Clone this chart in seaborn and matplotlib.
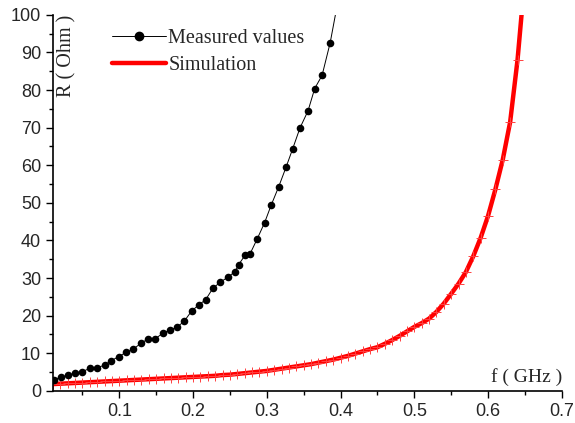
import matplotlib
matplotlib.use("Agg")
import matplotlib.pyplot as plt
import seaborn as sns
import numpy as np
import pandas as pd
from matplotlib.lines import Line2D
from matplotlib.ticker import MultipleLocator

# measured points (GHz, Ohm)
meas_f = [0.011, 0.021, 0.031, 0.040, 0.050, 0.060, 0.070, 0.080, 0.089, 0.099,
          0.109, 0.119, 0.129, 0.139, 0.149, 0.159, 0.169, 0.178, 0.188, 0.198,
          0.208, 0.217, 0.227, 0.237, 0.247, 0.257, 0.262, 0.271, 0.277, 0.287,
          0.297, 0.306, 0.316, 0.326, 0.335, 0.345, 0.356, 0.365, 0.375, 0.386]
meas_R = [2.9, 3.7, 4.1, 4.8, 5.1, 6.0, 6.2, 6.8, 8.0, 9.1,
          10.2, 11.1, 12.6, 13.8, 13.9, 15.3, 16.2, 16.9, 18.5, 21.2,
          22.9, 24.2, 27.3, 28.9, 30.2, 31.7, 33.6, 36.2, 36.3, 40.4,
          44.7, 49.4, 54.2, 59.4, 64.3, 69.9, 74.5, 80.4, 83.9, 92.6]
# the thin connecting line runs on past the last dot
tail_f = [0.394]
tail_R = [101.0]

# simulation, every 0.01 GHz
sim_f = [round(0.01 * k, 2) for k in range(1, 66)]
sim_R = [1.8, 1.9, 2.0, 2.1, 2.2, 2.3, 2.4, 2.5, 2.6, 2.7,
         2.8, 2.9, 3.0, 3.1, 3.2, 3.3, 3.4, 3.5, 3.6, 3.7,
         3.8, 3.9, 4.0, 4.2, 4.3, 4.5, 4.7, 4.9, 5.1, 5.3,
         5.6, 5.9, 6.2, 6.5, 6.8, 7.1, 7.5, 7.9, 8.3, 8.8,
         9.3, 9.9, 10.5, 11.1, 11.6, 12.5, 13.5, 14.6, 15.8, 17.0,
         18.0, 19.2, 21.0, 23.2, 25.8, 28.5, 31.6, 35.8, 40.7, 46.5,
         53.6, 61.5, 71.5, 88.0, 110.0]

sns.set_style("ticks")
plt.rcParams["font.family"] = ["Liberation Sans", "DejaVu Sans"]

fig = plt.figure(figsize=(5.75, 4.23), dpi=100)
ax = fig.add_axes([0.092, 0.076, 0.885, 0.889])

line_df = pd.DataFrame({"f": meas_f + tail_f, "R": meas_R + tail_R})
sim_df = pd.DataFrame({"f": sim_f, "R": sim_R})

sns.lineplot(data=sim_df, x="f", y="R", ax=ax, color="#ff0000", lw=3.2,
             marker="+", markersize=6.5, markeredgewidth=0.7,
             markeredgecolor="#ff4040", sort=False, estimator=None)
sns.lineplot(data=line_df, x="f", y="R", ax=ax, color="black", lw=0.7,
             sort=False, estimator=None)
sns.scatterplot(x=meas_f, y=meas_R, ax=ax, color="black", s=30,
                edgecolor="black", linewidth=0, zorder=5)

ax.set_xlim(0.01, 0.7)
ax.set_ylim(0, 100)
ax.xaxis.set_minor_locator(MultipleLocator(0.05))
ax.yaxis.set_major_locator(MultipleLocator(10))
ax.yaxis.set_minor_locator(MultipleLocator(5))
ax.set_xticks([0.1, 0.2, 0.3, 0.4, 0.5, 0.6, 0.7])
ax.set_xticklabels(["0.1", "0.2", "0.3", "0.4", "0.5", "0.6", "0.7"])
ax.tick_params(which="major", length=5, width=1, labelsize=13, color="black")
ax.tick_params(which="minor", length=3, width=1, color="black")
for s in ["left", "bottom"]:
    ax.spines[s].set_linewidth(1.2)
    ax.spines[s].set_color("black")
sns.despine(ax=ax)
ax.set_xlabel("")
ax.set_ylabel("")

ax.text(1.0, 0.024, "f ( GHz )", transform=ax.transAxes, ha="right",
        va="baseline", fontsize=14, family=["Liberation Serif"])
ax.text(0.028, 1.0, "R ( Ohm )", transform=ax.transAxes, ha="center",
        va="top", rotation=90, fontsize=14.5, family=["Liberation Serif"])

handles = [
    Line2D([], [], color="black", lw=0.7, marker="o", markersize=6),
    Line2D([], [], color="#ff0000", lw=3.2),
]
ax.legend(handles, ["Measured values", "Simulation"], loc="upper left",
          bbox_to_anchor=(0.1, 0.985), frameon=False, handlelength=2.7,
          handletextpad=0.1, labelspacing=0.4, borderaxespad=0,
          prop={"family": "Liberation Serif", "size": 14.5})

fig.savefig("out.png", dpi=100)
